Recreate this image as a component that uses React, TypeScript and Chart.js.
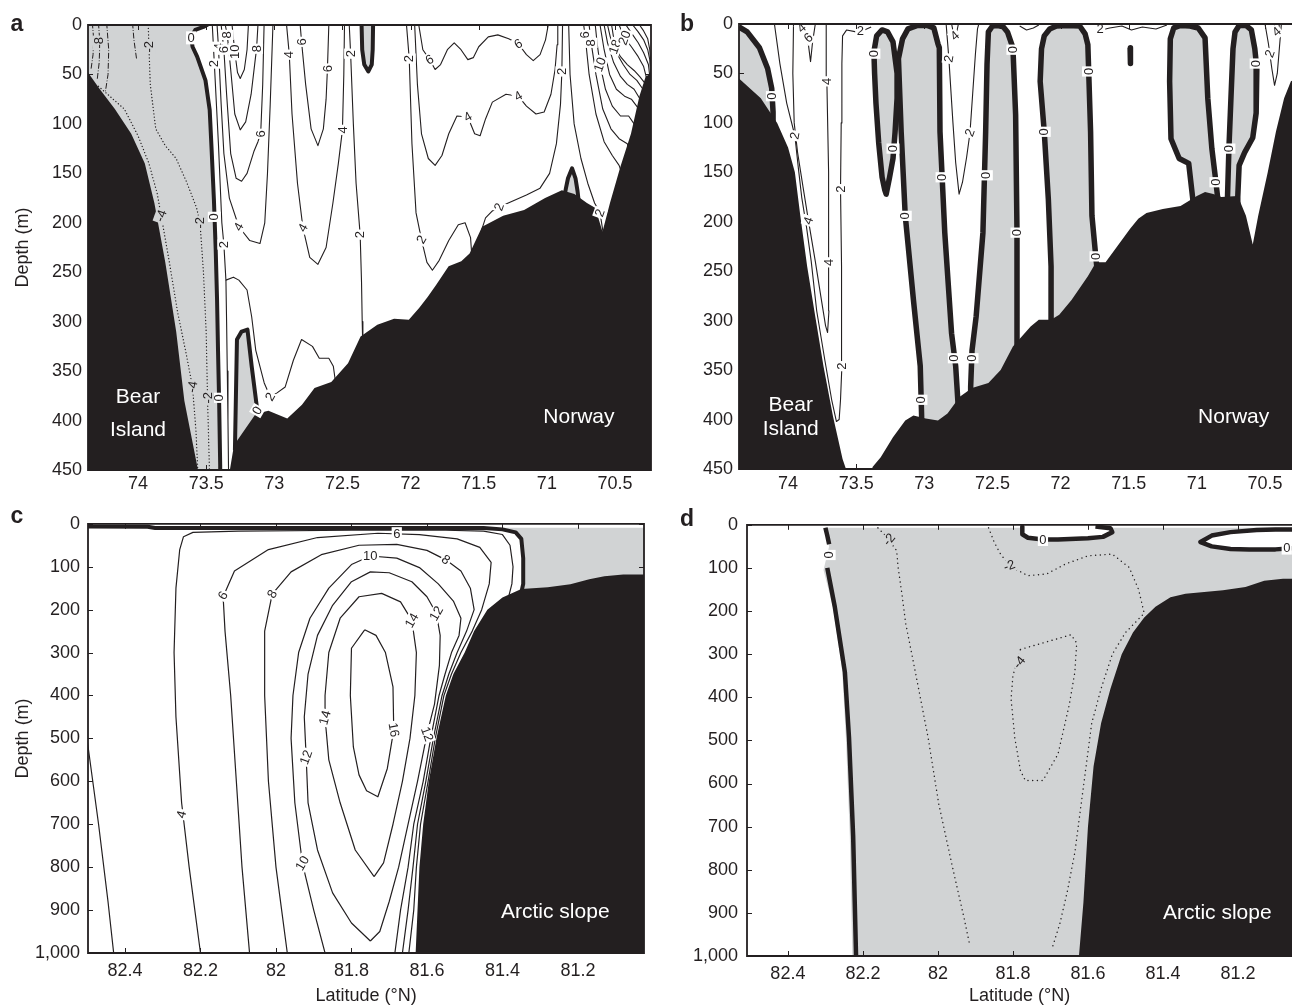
import React, { useEffect, useRef } from 'react';
import { Chart, registerables } from 'chart.js';

Chart.register(...registerables);

const INK = '#231f20';
const GRAY = '#d1d3d4';
const FONT = '"Liberation Sans", Arial, Helvetica, sans-serif';

type Pt = [number, number];
type Lbl = [string, number, number, number];

// ---------- axis ticks ----------
const LAT_TICKS_AB = [74, 73.5, 73, 72.5, 72, 71.5, 71, 70.5];
const DEPTH_TICKS_AB = [0, 50, 100, 150, 200, 250, 300, 350, 400, 450];
const LAT_TICKS_CD = [82.4, 82.2, 82, 81.8, 81.6, 81.4, 81.2];
const DEPTH_TICKS_CD = [0, 100, 200, 300, 400, 500, 600, 700, 800, 900, 1000];

// ---------- panel a : [latitude, depth] ----------
const A_SEABED: Pt[] = [[74.5,48],[74.367,48],[74.28,65],[74.17,85],[74.05,110],[73.95,140],[73.88,180],[73.8,240],[73.72,310],[73.66,380],[73.56,450],[73.555,460],[73.326,460],[73.326,450],[73.296,425],[73.136,393],[73.043,390],[72.905,398],[72.797,384],[72.705,367],[72.582,361],[72.459,342],[72.367,315],[72.244,303],[72.121,297],[72.013,298],[71.936,286],[71.875,275],[71.813,263],[71.721,244],[71.628,239],[71.567,231],[71.475,204],[71.321,193],[71.167,187],[71.013,175],[70.89,167],[70.798,171],[70.706,180],[70.644,185],[70.592,209],[70.537,180],[70.46,143],[70.383,110],[70.321,72],[70.275,52],[70.236,49],[70.1,49],[70.1,470],[74.5,470]];
const A_GRAY_MAIN: Pt[] = [[74.5,-5],[73.47,-5],[73.47,0],[73.52,2],[73.58,5],[73.61,12],[73.6,22],[73.566,32],[73.505,56],[73.474,86],[73.46,126],[73.443,177],[73.43,227],[73.42,278],[73.413,329],[73.405,379],[73.397,445],[73.397,470],[74.5,470]];
const A_ZERO_MAIN: Pt[] = [[73.47,-2],[73.52,2],[73.58,5],[73.61,12],[73.6,22],[73.566,32],[73.505,56],[73.474,86],[73.46,126],[73.443,177],[73.43,227],[73.42,278],[73.413,329],[73.405,379],[73.397,445],[73.397,465]];
const A_ZERO_TRI: Pt[] = [[73.289,430],[73.285,400],[73.274,318],[73.24,310],[73.197,308],[73.166,345],[73.12,395],[73.1,410]];
const A_ZERO_SPIKE: Pt[] = [[72.36,-2],[72.355,25],[72.34,40],[72.31,47],[72.285,40],[72.278,25],[72.275,-2]];
const A_ZERO_KNOB: Pt[] = [[70.88,180],[70.86,165],[70.845,155],[70.815,145],[70.79,155],[70.775,168],[70.765,180]];
const A_D2: Pt[] = [[73.925,0],[73.92,22],[73.91,60],[73.87,105],[73.8,122],[73.72,135],[73.64,160],[73.57,185],[73.545,200],[73.52,250],[73.5,310],[73.49,377],[73.475,455]];
const A_D4: Pt[] = [[74.29,62],[74.1,85],[74.0,112],[73.92,140],[73.86,170],[73.83,193],[73.77,240],[73.71,290],[73.65,330],[73.6,366],[73.575,410],[73.56,455]];
const A_DD1: Pt[] = [[74.335,-2],[74.325,15],[74.33,30],[74.345,45]];
const A_DD2: Pt[] = [[74.29,-2],[74.28,18],[74.285,38],[74.3,56]];
const A_DD3: Pt[] = [[74.23,-2],[74.215,25],[74.22,50],[74.24,68]];
const A_DD4: Pt[] = [[74.04,-2],[74.03,15],[74.01,35]];
const A_C2_MAIN: Pt[] = [[73.455,0],[73.44,39],[73.41,120],[73.385,200],[73.37,222],[73.355,258],[73.3,255],[73.26,258],[73.2,268],[73.166,295],[73.136,329],[73.074,362],[73.03,376],[72.98,372],[72.92,366],[72.86,339],[72.8,318],[72.72,325],[72.67,337],[72.6,337],[72.567,345],[72.55,362]];
const A_C2_CHANNEL: Pt[] = [[73.355,258],[73.35,300],[73.345,350],[73.34,400],[73.335,460]];
const A_U4: Pt[] = [[73.42,0],[73.41,22],[73.39,80],[73.37,130],[73.33,175],[73.26,204],[73.18,218],[73.105,221],[73.07,200],[73.05,150],[73.03,80],[73.01,0]];
const A_U6: Pt[] = [[73.39,0],[73.37,25],[73.35,70],[73.32,130],[73.28,155],[73.24,158],[73.2,150],[73.15,128],[73.12,118],[73.1,110],[73.085,60],[73.075,0]];
const A_U8: Pt[] = [[73.36,0],[73.345,10],[73.32,45],[73.29,90],[73.25,106],[73.21,98],[73.17,70],[73.14,35],[73.13,24],[73.12,0]];
const A_U10: Pt[] = [[73.31,0],[73.29,27],[73.27,48],[73.25,54],[73.22,45],[73.2,25],[73.19,0]];
const A_U4B: Pt[] = [[72.91,0],[72.89,30],[72.87,90],[72.83,160],[72.79,205],[72.74,235],[72.68,242],[72.62,225],[72.57,180],[72.53,140],[72.5,106],[72.49,50],[72.485,0]];
const A_U6B: Pt[] = [[72.81,0],[72.8,17],[72.77,60],[72.73,105],[72.68,122],[72.64,105],[72.62,75],[72.61,44],[72.6,0]];
const A_C2_VERT: Pt[] = [[72.45,0],[72.44,29],[72.42,100],[72.4,160],[72.37,212],[72.36,260],[72.355,300],[72.35,330]];
const A_C2_R: Pt[] = [[72.03,0],[72.01,34],[71.99,120],[71.96,190],[71.92,217],[71.88,240],[71.84,248],[71.79,238],[71.72,218],[71.65,202],[71.6,200],[71.56,215],[71.55,235]];
const A_R4: Pt[] = [[71.97,0],[71.95,60],[71.92,110],[71.87,135],[71.82,142],[71.77,132],[71.72,110],[71.66,92],[71.58,93],[71.53,110],[71.49,112],[71.45,95],[71.4,78],[71.3,70],[71.21,72],[71.15,82],[71.08,90],[71.02,88],[70.97,70],[70.94,45],[70.925,20],[70.92,0]];
const A_R6: Pt[] = [[71.94,0],[71.91,25],[71.86,35],[71.82,45],[71.78,40],[71.73,25],[71.68,18],[71.63,25],[71.58,35],[71.54,33],[71.5,22],[71.43,12],[71.36,10],[71.28,14],[71.21,19],[71.15,30],[71.1,36],[71.05,30],[71.01,15],[70.99,0]];
const A_R2B: Pt[] = [[71.49,212],[71.45,195],[71.4,188],[71.35,184],[71.25,178],[71.15,172],[71.05,165],[70.98,150],[70.93,120],[70.9,80],[70.89,47],[70.885,0]];
const A_RC1: Pt[] = [[70.84,0],[70.83,50],[70.8,100],[70.75,135],[70.7,160],[70.65,180],[70.61,190],[70.585,212]];
const A_RC6: Pt[] = [[70.73,0],[70.72,10],[70.69,50],[70.64,90],[70.58,118],[70.52,132],[70.47,142],[70.45,150]];
const A_RC8: Pt[] = [[70.69,0],[70.675,18],[70.64,50],[70.59,85],[70.53,105],[70.47,115],[70.41,120],[70.4,126]];
const A_RC10: Pt[] = [[70.645,0],[70.63,20],[70.61,40],[70.57,65],[70.52,82],[70.46,92],[70.4,92],[70.36,100]];
const A_RC12: Pt[] = [[70.61,0],[70.58,25],[70.54,50],[70.49,65],[70.43,72],[70.38,75],[70.33,84]];
const A_RC14: Pt[] = [[70.58,0],[70.555,18],[70.51,38],[70.46,52],[70.41,60],[70.36,65],[70.32,74]];
const A_RC16: Pt[] = [[70.555,0],[70.535,12],[70.49,28],[70.44,40],[70.39,50],[70.34,56],[70.3,64]];
const A_RC18: Pt[] = [[70.525,0],[70.5,22],[70.46,32],[70.41,40],[70.36,46],[70.32,52],[70.285,58]];
const A_RC20: Pt[] = [[70.47,0],[70.43,13],[70.38,22],[70.33,32],[70.29,42],[70.27,53]];
const A_RC22: Pt[] = [[70.42,0],[70.38,8],[70.33,18],[70.29,28],[70.255,40],[70.245,52]];
const A_RC24: Pt[] = [[70.37,0],[70.33,7],[70.29,15],[70.26,25],[70.245,35],[70.238,52]];
const A_RC26: Pt[] = [[70.32,0],[70.29,6],[70.26,14],[70.245,25],[70.236,42]];
const A_LABELS_W: Lbl[] = [['2',73.44,39,-90],['2',73.37,222,-90],['4',73.41,22,-90],['6',73.37,25,-90],['8',73.345,10,-90],['10',73.29,27,-90],['8',73.13,24,-90],['6',73.1,110,-90],['4',73.26,204,-60],['4',72.89,30,-90],['6',72.8,17,-90],['6',72.61,44,-90],['4',72.79,205,-60],['4',72.5,106,-90],['2',72.44,29,-90],['2',72.37,212,-90],['2',72.01,34,-90],['2',71.92,217,-60],['2',73.03,376,-60],['6',71.86,35,-30],['6',71.21,19,-30],['4',71.58,93,-30],['4',71.21,72,-30],['2',71.35,184,-70],['2',70.89,47,-90],['2',70.61,190,-70],['6',70.72,10,-90],['8',70.675,18,-90],['10',70.61,40,-70],['18',70.5,22,-70],['20',70.43,13,-70],['0',73.61,13,0],['0',73.44,194,-90],['0',73.405,377,-90],['0',73.125,390,-60]];
const A_LABELS_G: Lbl[] = [['-8',74.285,18,-90],['-2',73.92,22,-90],['-4',73.83,193,-70],['-2',73.545,200,-90],['-4',73.6,366,-80],['-2',73.49,377,-90]];
const A_REGIONS: [string, number, number][] = [['Bear',74.0,376],['Island',74.0,410],['Norway',70.765,397]];

// ---------- panel b ----------
const B_SEABED: Pt[] = [[74.5,55],[74.36,55],[74.2,75],[74.08,100],[74.0,125],[73.95,150],[73.91,194],[73.86,245],[73.8,296],[73.74,346],[73.67,397],[73.6,440],[73.57,452],[73.56,470],[73.4,470],[73.38,448],[73.32,438],[73.23,418],[73.14,401],[73.08,396],[72.99,399],[72.9,401],[72.83,394],[72.74,377],[72.65,368],[72.53,363],[72.44,350],[72.35,326],[72.22,306],[72.16,299],[72.07,299],[72.01,294],[71.92,279],[71.8,255],[71.74,241],[71.67,241],[71.58,224],[71.49,207],[71.43,197],[71.37,191],[71.25,187],[71.12,184],[71.0,174],[70.94,170],[70.88,172],[70.82,175],[70.7,174],[70.64,194],[70.59,223],[70.55,194],[70.48,150],[70.42,109],[70.36,75],[70.31,58],[70.2,50],[70.2,470],[74.5,470]];
const B_GRAY_LEFT: Pt[] = [[74.5,3],[74.36,3],[74.3,8],[74.21,24],[74.15,45],[74.12,65],[74.11,89],[74.11,130],[74.5,130]];
const B_ZERO_LEFT: Pt[] = [[74.36,3],[74.3,8],[74.21,24],[74.15,45],[74.12,65],[74.11,89],[74.11,115]];
const B_ZERO_LOOP: Pt[] = [[73.37,28],[73.35,12],[73.31,6],[73.27,8],[73.23,18],[73.2,50],[73.2,75],[73.215,110],[73.23,136],[73.255,155],[73.28,172],[73.29,168],[73.31,155],[73.335,120],[73.355,80],[73.365,50],[73.37,28]];
const B_ZERO_3: Pt[] = [[73.02,410],[73.02,396],[73.03,346],[73.08,279],[73.14,194],[73.17,109],[73.19,35],[73.16,15],[73.12,5],[73.05,1.5],[72.98,1.5],[72.93,4],[72.9,20],[72.89,24],[72.885,109],[72.85,211],[72.8,313],[72.77,346],[72.75,390],[72.745,405]];
const B_ZERO_4: Pt[] = [[72.66,400],[72.66,367],[72.65,330],[72.62,296],[72.57,211],[72.55,109],[72.54,41],[72.53,8],[72.5,2],[72.46,1.5],[72.42,3],[72.39,8],[72.35,24],[72.33,92],[72.32,211],[72.32,319],[72.32,350]];
const B_ZERO_5: Pt[] = [[72.07,320],[72.07,299],[72.07,245],[72.09,177],[72.12,109],[72.15,58],[72.14,25],[72.12,12],[72.08,5],[72.03,2],[71.95,1.5],[71.86,2],[71.82,10],[71.8,21],[71.78,109],[71.77,194],[71.74,238],[71.72,265]];
const B_ZERO_6: Pt[] = [[71.03,195],[71.03,177],[71.06,141],[71.13,136],[71.19,116],[71.2,58],[71.195,15],[71.17,4],[71.12,1.5],[71.05,2],[70.99,4],[70.94,14],[70.92,75],[70.89,126],[70.86,160],[70.84,185]];
const B_ZERO_7: Pt[] = [[70.775,195],[70.775,174],[70.765,126],[70.75,75],[70.735,25],[70.72,8],[70.69,1.5],[70.64,1.5],[70.6,6],[70.575,25],[70.56,45],[70.565,90],[70.59,115],[70.65,130],[70.69,143],[70.7,175],[70.7,195]];
const B_ZERO_BLOB: Pt[] = [[71.49,24],[71.485,32],[71.49,40]];
const B_C2: Pt[] = [[74.1,0],[74.06,40],[74.01,80],[73.95,113],[73.925,145],[73.9,175],[73.865,205],[73.83,240],[73.79,290],[73.73,340],[73.68,380],[73.645,402],[73.625,400],[73.615,380],[73.605,346],[73.605,300],[73.61,245],[73.615,167],[73.61,100],[73.605,40],[73.6,12],[73.57,6],[73.5,8],[73.44,6],[73.39,3]];
const B_C4: Pt[] = [[73.96,0],[73.965,50],[73.955,100],[73.93,130],[73.89,165],[73.85,199],[73.8,240],[73.76,275],[73.725,305],[73.71,312],[73.7,290],[73.7,241],[73.705,150],[73.715,60],[73.72,0]];
const B_C6: Pt[] = [[73.875,0],[73.855,16],[73.835,38],[73.82,18],[73.8,0]];
const B_V72: Pt[] = [[72.84,0],[72.82,35],[72.79,100],[72.77,140],[72.745,172],[72.72,160],[72.69,135],[72.665,110],[72.645,70],[72.625,30],[72.61,5],[72.6,0]];
const B_V72S: Pt[] = [[72.8,0],[72.785,10],[72.775,18],[72.765,10],[72.75,0]];
const B_TOP1: Pt[] = [[72.3,2],[72.25,6],[72.2,4],[72.16,1]];
const B_TOP2: Pt[] = [[71.74,1],[71.7,6],[71.64,4],[71.55,2],[71.48,6],[71.4,3],[71.3,5],[71.22,1]];
const B_VR: Pt[] = [[70.5,0],[70.475,20],[70.45,45],[70.43,62],[70.41,50],[70.395,25],[70.38,0]];
const B_VR4: Pt[] = [[70.43,0],[70.42,8],[70.41,12],[70.4,6],[70.395,0]];
const B_LABELS_W: Lbl[] = [['0',74.115,73,-90],['0',73.37,30,-90],['0',73.23,126,-90],['0',73.14,194,-90],['0',72.87,155,-90],['0',73.025,380,-90],['0',72.78,338,-90],['0',72.65,338,-90],['0',72.545,153,-90],['0',72.35,26,-90],['0',72.32,211,-90],['0',72.12,109,-90],['0',71.795,48,-90],['0',71.74,235,-90],['0',70.86,160,-90],['0',70.765,126,-90],['0',70.565,40,-90],['2',73.95,113,-80],['4',73.85,199,-70],['4',73.7,241,-90],['4',73.715,58,-90],['2',73.615,167,-90],['2',73.605,346,-90],['2',73.47,7,0],['4',73.9,4,-40],['6',73.85,14,-40],['2',72.82,35,-80],['2',72.665,110,-70],['4',72.775,12,-40],['2',71.71,5,0],['2',70.465,30,-70],['4',70.415,8,-40]];
const B_REGIONS: [string, number, number][] = [['Bear',73.98,385],['Island',73.98,410],['Norway',70.73,398]];

// ---------- panel c ----------
const C_SEABED: Pt[] = [[81.63,1010],[81.63,1000],[81.625,900],[81.62,800],[81.61,700],[81.595,600],[81.575,500],[81.55,400],[81.53,350],[81.5,300],[81.475,250],[81.44,200],[81.4,172],[81.35,152],[81.28,148],[81.22,141],[81.17,129],[81.13,122],[81.08,118],[80.95,118],[80.95,1010]];
const C_GRAY: Pt[] = [[81.4,9],[81.4,13],[81.365,20],[81.35,35],[81.345,80],[81.345,140],[81.35,200],[80.9,200],[80.9,9]];
const C_ZERO: Pt[] = [[82.55,6],[82.34,7],[82.32,10],[81.45,10],[81.4,13],[81.365,20],[81.35,35],[81.345,80],[81.345,140],[81.35,160]];
const C_C2: Pt[] = [[82.5,505],[82.47,700],[82.445,880],[82.43,1000]];
const C_C4: Pt[] = [[82.2,1000],[82.23,800],[82.25,650],[82.265,450],[82.27,300],[82.265,150],[82.255,60],[82.245,30],[82.22,20],[82.1,17],[81.8,15],[81.55,15],[81.45,17],[81.4,25],[81.38,50],[81.372,100],[81.375,140],[81.385,175]];
const C_C6: Pt[] = [[82.07,1000],[82.09,800],[82.105,600],[82.12,400],[82.135,250],[82.14,170],[82.11,110],[82.02,60],[81.89,32],[81.73,22],[81.62,25],[81.52,35],[81.46,55],[81.43,90],[81.435,140],[81.455,200],[81.48,250],[81.51,300],[81.535,350],[81.555,400],[81.578,500],[81.597,600],[81.617,700],[81.628,800],[81.635,900],[81.648,1000]];
const C_C8: Pt[] = [[81.97,1000],[82.0,800],[82.02,600],[82.03,400],[82.03,250],[82.01,164],[81.96,112],[81.88,72],[81.78,50],[81.68,48],[81.6,62],[81.55,84],[81.51,110],[81.485,150],[81.475,200],[81.495,250],[81.52,300],[81.542,350],[81.56,400],[81.583,500],[81.603,600],[81.625,700],[81.637,800],[81.65,900],[81.665,1000]];
const C_C10: Pt[] = [[81.87,1000],[81.9,900],[81.93,791],[81.95,650],[81.96,500],[81.955,400],[81.94,300],[81.91,220],[81.86,150],[81.8,95],[81.75,75],[81.68,80],[81.62,102],[81.57,140],[81.53,180],[81.51,220],[81.515,260],[81.535,300],[81.552,350],[81.568,400],[81.59,500],[81.61,600],[81.635,700],[81.65,800],[81.67,900],[81.685,1000]];
const C_C12: Pt[] = [[81.75,972],[81.8,930],[81.85,860],[81.89,760],[81.915,650],[81.92,544],[81.925,450],[81.915,350],[81.89,260],[81.85,190],[81.8,135],[81.75,112],[81.7,114],[81.64,135],[81.6,170],[81.575,209],[81.565,260],[81.567,330],[81.58,420],[81.6,490],[81.625,600],[81.65,700],[81.675,800],[81.7,880],[81.725,950],[81.75,972]];
const C_C14: Pt[] = [[81.74,822],[81.79,760],[81.83,650],[81.86,550],[81.87,452],[81.87,400],[81.86,300],[81.83,220],[81.78,170],[81.72,162],[81.67,182],[81.64,225],[81.628,300],[81.632,400],[81.645,500],[81.665,600],[81.69,700],[81.715,790],[81.74,822]];
const C_C16: Pt[] = [[81.765,247],[81.8,290],[81.803,400],[81.795,520],[81.78,585],[81.76,622],[81.73,636],[81.705,570],[81.688,480],[81.69,380],[81.71,300],[81.735,260],[81.765,247]];
const C_LABELS_W: Lbl[] = [['4',82.25,677,-75],['6',82.14,167,-60],['8',82.01,164,-60],['10',81.75,74,0],['6',81.68,23,0],['8',81.55,84,35],['14',81.64,225,-60],['12',81.575,209,-60],['14',81.87,452,-75],['16',81.688,480,80],['12',81.92,544,-70],['12',81.6,490,70],['10',81.93,791,-60]];
const C_REGIONS: [string, number, number][] = [['Arctic slope',81.26,905]];

// ---------- panel d ----------
const D_SEABED: Pt[] = [[81.624,1010],[81.624,1000],[81.612,875],[81.6,700],[81.585,560],[81.565,460],[81.54,380],[81.51,300],[81.48,250],[81.45,215],[81.42,190],[81.38,168],[81.34,160],[81.29,156],[81.24,152],[81.18,144],[81.13,130],[81.08,125],[80.95,125],[80.95,1010]];
const D_GRAY: Pt[] = [[82.305,7],[82.29,50],[82.305,105],[82.28,190],[82.255,340],[82.245,500],[82.235,720],[82.228,1010],[80.95,1010],[80.95,7]];
const D_ZERO_LOOP1: Pt[] = [[81.775,4],[81.775,22],[81.76,30],[81.72,34],[81.68,34],[81.6,31],[81.56,28],[81.535,17],[81.54,8],[81.58,4]];
const D_ZERO_LOOP2: Pt[] = [[80.95,11],[81.05,11],[81.1,11],[81.15,12],[81.22,17],[81.27,25],[81.3,40],[81.27,50],[81.22,56],[81.17,57],[81.1,57],[81.05,54],[80.95,55]];
const D_ZERO_LEFT_TOP: Pt[] = [[82.3,7],[82.295,25],[82.29,45]];
const D_ZERO_LEFT: Pt[] = [[82.295,100],[82.275,190],[82.248,342],[82.237,494],[82.226,722],[82.218,1010]];
const D_M2_LEFT: Pt[] = [[82.16,7],[82.14,25],[82.11,60],[82.106,99],[82.096,160],[82.086,228],[82.06,342],[82.026,494],[81.998,646],[81.96,798],[81.93,913],[81.915,975]];
const D_M2_RIGHT: Pt[] = [[81.865,7],[81.85,40],[81.835,65],[81.81,95],[81.76,118],[81.71,114],[81.66,91],[81.6,72],[81.535,68],[81.49,99],[81.465,150],[81.45,205],[81.5,250],[81.535,300],[81.565,380],[81.59,460],[81.605,560],[81.62,660],[81.635,760],[81.655,850],[81.675,925],[81.695,980]];
const D_M4: Pt[] = [[81.78,289],[81.72,274],[81.645,255],[81.63,274],[81.635,342],[81.65,418],[81.68,532],[81.705,570],[81.72,593],[81.767,593],[81.78,570],[81.795,494],[81.805,403],[81.8,350],[81.78,289]];
const D_LABELS_W: Lbl[] = [['0',82.29,70,-90],['0',81.72,34,0],['0',81.07,54,0]];
const D_LABELS_G: Lbl[] = [['-2',82.13,34,-50],['-2',81.81,95,-20],['-4',81.783,319,-50]];
const D_REGIONS: [string, number, number][] = [['Arctic slope',81.255,901]];

// ---------- helpers ----------
const xy = (d: Pt[]) => d.map(([x, y]) => ({ x, y }));
const area = (d: Pt[], color: string, order: number) => ({
  data: xy(d), borderColor: 'rgba(0,0,0,0)', borderWidth: 0, backgroundColor: color,
  fill: 'shape', pointRadius: 0, pointHoverRadius: 0, order, clip: 0, tension: 0,
});
const stroke = (d: Pt[], width: number, order: number, dash: number[] = []) => ({
  data: xy(d), borderColor: INK, borderWidth: width, backgroundColor: 'rgba(0,0,0,0)',
  fill: false, borderDash: dash, borderCapStyle: dash.length ? 'round' : 'butt',
  borderJoinStyle: 'round', pointRadius: 0, pointHoverRadius: 0, order, clip: 0, tension: 0,
});
const DOT_A = [0.1, 3.2];
const DOT_D = [0.1, 4.6];
const DASHDOT = [5, 2.5, 0.1, 2.5];

const A_THIN = [A_C2_MAIN, A_C2_CHANNEL, A_U4, A_U6, A_U8, A_U10, A_U4B, A_U6B, A_C2_VERT, A_C2_R, A_R4, A_R6, A_R2B, A_RC1, A_RC6, A_RC8, A_RC10, A_RC12, A_RC14, A_RC16, A_RC18, A_RC20, A_RC22, A_RC24, A_RC26];
const A_SETS = [
  area(A_GRAY_MAIN, GRAY, 50), area(A_ZERO_TRI, GRAY, 50), area(A_ZERO_SPIKE, GRAY, 50), area(A_ZERO_KNOB, GRAY, 50),
  ...[A_D2, A_D4].map((d) => stroke(d, 1.3, 40, DOT_A)),
  ...[A_DD1, A_DD2, A_DD3, A_DD4].map((d) => stroke(d, 1, 40, DASHDOT)),
  ...A_THIN.map((d) => stroke(d, 1.1, 35)),
  ...[A_ZERO_MAIN, A_ZERO_TRI, A_ZERO_SPIKE, A_ZERO_KNOB].map((d) => stroke(d, 4, 30)),
  area(A_SEABED, INK, 20),
];
const B_ZEROS = [B_ZERO_LOOP, B_ZERO_3, B_ZERO_4, B_ZERO_5, B_ZERO_6, B_ZERO_7];
const B_SETS = [
  area(B_GRAY_LEFT, GRAY, 50), ...B_ZEROS.map((d) => area(d, GRAY, 50)),
  ...[B_C2, B_C4, B_C6, B_V72, B_V72S, B_TOP1, B_TOP2, B_VR, B_VR4].map((d) => stroke(d, 1.1, 35)),
  ...[B_ZERO_LEFT, ...B_ZEROS, B_ZERO_BLOB].map((d) => stroke(d, 5.5, 30)),
  area(B_SEABED, INK, 20),
];
const C_SETS = [
  area(C_GRAY, GRAY, 50),
  ...[C_C2, C_C4, C_C6, C_C8, C_C10, C_C12, C_C14, C_C16].map((d) => stroke(d, 1.2, 35)),
  stroke(C_ZERO, 4, 30),
  area(C_SEABED, INK, 20),
];
const D_SETS = [
  area(D_GRAY, GRAY, 50), area(D_ZERO_LOOP1, '#ffffff', 45), area(D_ZERO_LOOP2, '#ffffff', 45),
  ...[D_M2_LEFT, D_M2_RIGHT, D_M4].map((d) => stroke(d, 1.4, 40, DOT_D)),
  ...[D_ZERO_LOOP1, D_ZERO_LOOP2, D_ZERO_LEFT_TOP, D_ZERO_LEFT].map((d) => stroke(d, 4.5, 30)),
  area(D_SEABED, INK, 20),
];

const PANELS: any[] = [
  { left: 0, top: 0, w: 660, h: 505, pad: { left: 12, top: 25, right: 9, bottom: 0 }, yW: 76, xH: 35,
    xMin: 70.236, xMax: 74.367, yMax: 450, latTicks: LAT_TICKS_AB, depthTicks: DEPTH_TICKS_AB, xPad: 3, yPad: 6,
    xTitle: false, yTitle: true, letter: 'a', lx: 17, ly: 25, rightFrame: true, sets: A_SETS,
    labels: [{ items: A_LABELS_W, bg: '#ffffff' }, { items: A_LABELS_G, bg: GRAY }], regions: A_REGIONS },
  { left: 660, top: 0, w: 632, h: 505, pad: { left: 0, top: 24, right: 0, bottom: 0 }, yW: 79, xH: 36,
    xMin: 70.302, xMax: 74.36, yMax: 450, latTicks: LAT_TICKS_AB, depthTicks: DEPTH_TICKS_AB, xPad: 4, yPad: 6,
    xTitle: false, yTitle: false, letter: 'b', lx: 27, ly: 25, rightFrame: false, sets: B_SETS,
    labels: [{ items: B_LABELS_W, bg: '#ffffff' }], regions: B_REGIONS },
  { left: 0, top: 505, w: 660, h: 503, pad: { left: 12, top: 11, right: 16, bottom: 1 }, yW: 76, xH: 54,
    xMin: 81.025, xMax: 82.498, yMax: 1000, latTicks: LAT_TICKS_CD, depthTicks: DEPTH_TICKS_CD, xPad: 7, yPad: 8,
    xTitle: true, yTitle: true, letter: 'c', lx: 17, ly: 12, rightFrame: true, sets: C_SETS,
    labels: [{ items: C_LABELS_W, bg: '#ffffff' }], regions: C_REGIONS },
  { left: 660, top: 505, w: 632, h: 503, pad: { left: 0, top: 12, right: 0, bottom: 1 }, yW: 87, xH: 51,
    xMin: 81.056, xMax: 82.509, yMax: 1000, latTicks: LAT_TICKS_CD, depthTicks: DEPTH_TICKS_CD, xPad: 7, yPad: 9,
    xTitle: true, yTitle: false, letter: 'd', lx: 27, ly: 15, rightFrame: false, sets: D_SETS,
    labels: [{ items: D_LABELS_W, bg: '#ffffff' }, { items: D_LABELS_G, bg: GRAY }], regions: D_REGIONS },
];

function makeDecor(p: any) {
  return {
    id: 'decor' + p.letter,
    afterDatasetsDraw(chart: any) {
      const { ctx, chartArea: ca, scales } = chart;
      const xs = scales.x, ys = scales.y;
      ctx.save();
      ctx.beginPath();
      ctx.rect(ca.left, ca.top, ca.right - ca.left, ca.bottom - ca.top);
      ctx.clip();
      ctx.textAlign = 'center';
      ctx.textBaseline = 'middle';
      ctx.font = `13px ${FONT}`;
      for (const g of p.labels) {
        for (const [t, lat, dep, ang] of g.items as Lbl[]) {
          const px = xs.getPixelForValue(lat), py = ys.getPixelForValue(dep);
          ctx.save();
          ctx.translate(px, py);
          ctx.rotate((ang * Math.PI) / 180);
          const w = ctx.measureText(t).width;
          ctx.fillStyle = g.bg;
          ctx.fillRect(-w / 2 - 1.5, -6.5, w + 3, 13);
          ctx.fillStyle = INK;
          ctx.fillText(t, 0, 0.5);
          ctx.restore();
        }
      }
      ctx.font = `21px ${FONT}`;
      ctx.fillStyle = '#ffffff';
      for (const [t, lat, dep] of p.regions) {
        ctx.fillText(t, xs.getPixelForValue(lat), ys.getPixelForValue(dep));
      }
      ctx.restore();
    },
    afterDraw(chart: any) {
      const { ctx, chartArea: ca, scales } = chart;
      const { left, right, top, bottom } = ca;
      ctx.save();
      ctx.strokeStyle = INK;
      ctx.lineWidth = 1;
      ctx.beginPath();
      for (const v of p.latTicks) {
        const x = Math.round(scales.x.getPixelForValue(v)) + 0.5;
        ctx.moveTo(x, bottom); ctx.lineTo(x, bottom - 5);
        ctx.moveTo(x, top); ctx.lineTo(x, top + 5);
      }
      for (const v of p.depthTicks) {
        const y = Math.round(scales.y.getPixelForValue(v)) + 0.5;
        ctx.moveTo(left, y); ctx.lineTo(left + 5, y);
        if (p.rightFrame) { ctx.moveTo(right, y); ctx.lineTo(right - 5, y); }
      }
      ctx.stroke();
      ctx.lineWidth = 1.8;
      ctx.beginPath();
      if (p.rightFrame) {
        ctx.rect(left, top, right - left, bottom - top);
      } else {
        ctx.moveTo(right + 2, top); ctx.lineTo(left, top); ctx.lineTo(left, bottom); ctx.lineTo(right + 2, bottom);
      }
      ctx.stroke();
      ctx.fillStyle = INK;
      ctx.font = `bold 23px ${FONT}`;
      ctx.textAlign = 'center';
      ctx.textBaseline = 'middle';
      ctx.fillText(p.letter, p.lx, p.ly);
      ctx.restore();
    },
  };
}

function buildConfig(p: any): any {
  const tickFont = { size: 18, family: FONT };
  return {
    type: 'line',
    data: { datasets: p.sets },
    options: {
      animation: false,
      responsive: false,
      maintainAspectRatio: false,
      events: [],
      layout: { padding: p.pad },
      plugins: { legend: { display: false }, tooltip: { enabled: false } },
      scales: {
        x: {
          type: 'linear', position: 'bottom', reverse: true, min: p.xMin, max: p.xMax,
          grid: { display: false, drawTicks: false }, border: { display: false },
          afterBuildTicks: (s: any) => { s.ticks = p.latTicks.map((v: number) => ({ value: v })); },
          afterFit: (s: any) => { s.height = p.xH; },
          ticks: { autoSkip: false, maxRotation: 0, minRotation: 0, padding: p.xPad, color: INK, font: tickFont,
            callback: (v: any) => String(v) },
          title: { display: p.xTitle, text: 'Latitude (°N)', color: INK, font: { size: 18, family: FONT }, padding: 0 },
        },
        y: {
          type: 'linear', position: 'left', reverse: true, min: 0, max: p.yMax,
          grid: { display: false, drawTicks: false }, border: { display: false },
          afterBuildTicks: (s: any) => { s.ticks = p.depthTicks.map((v: number) => ({ value: v })); },
          afterFit: (s: any) => { s.width = p.yW; },
          ticks: { autoSkip: false, padding: p.yPad, color: INK, font: tickFont,
            callback: (v: any) => Number(v).toLocaleString('en-US') },
          title: { display: p.yTitle, text: 'Depth (m)', color: INK, font: { size: 18, family: FONT }, padding: 0 },
        },
      },
    },
    plugins: [makeDecor(p)],
  };
}

export default function App() {
  const r0 = useRef<HTMLCanvasElement>(null);
  const r1 = useRef<HTMLCanvasElement>(null);
  const r2 = useRef<HTMLCanvasElement>(null);
  const r3 = useRef<HTMLCanvasElement>(null);
  const refs = [r0, r1, r2, r3];
  useEffect(() => {
    const charts = PANELS.map((p, i) => new Chart(refs[i].current as HTMLCanvasElement, buildConfig(p)));
    return () => charts.forEach((c) => c.destroy());
  }, []);
  return (
    <div style={{ position: 'absolute', left: 0, top: 0, width: 1292, height: 1008, background: '#ffffff', overflow: 'hidden' }}>
      {PANELS.map((p, i) => (
        <canvas key={i} ref={refs[i]} width={p.w} height={p.h}
          style={{ position: 'absolute', left: p.left, top: p.top, width: p.w, height: p.h }} />
      ))}
    </div>
  );
}
